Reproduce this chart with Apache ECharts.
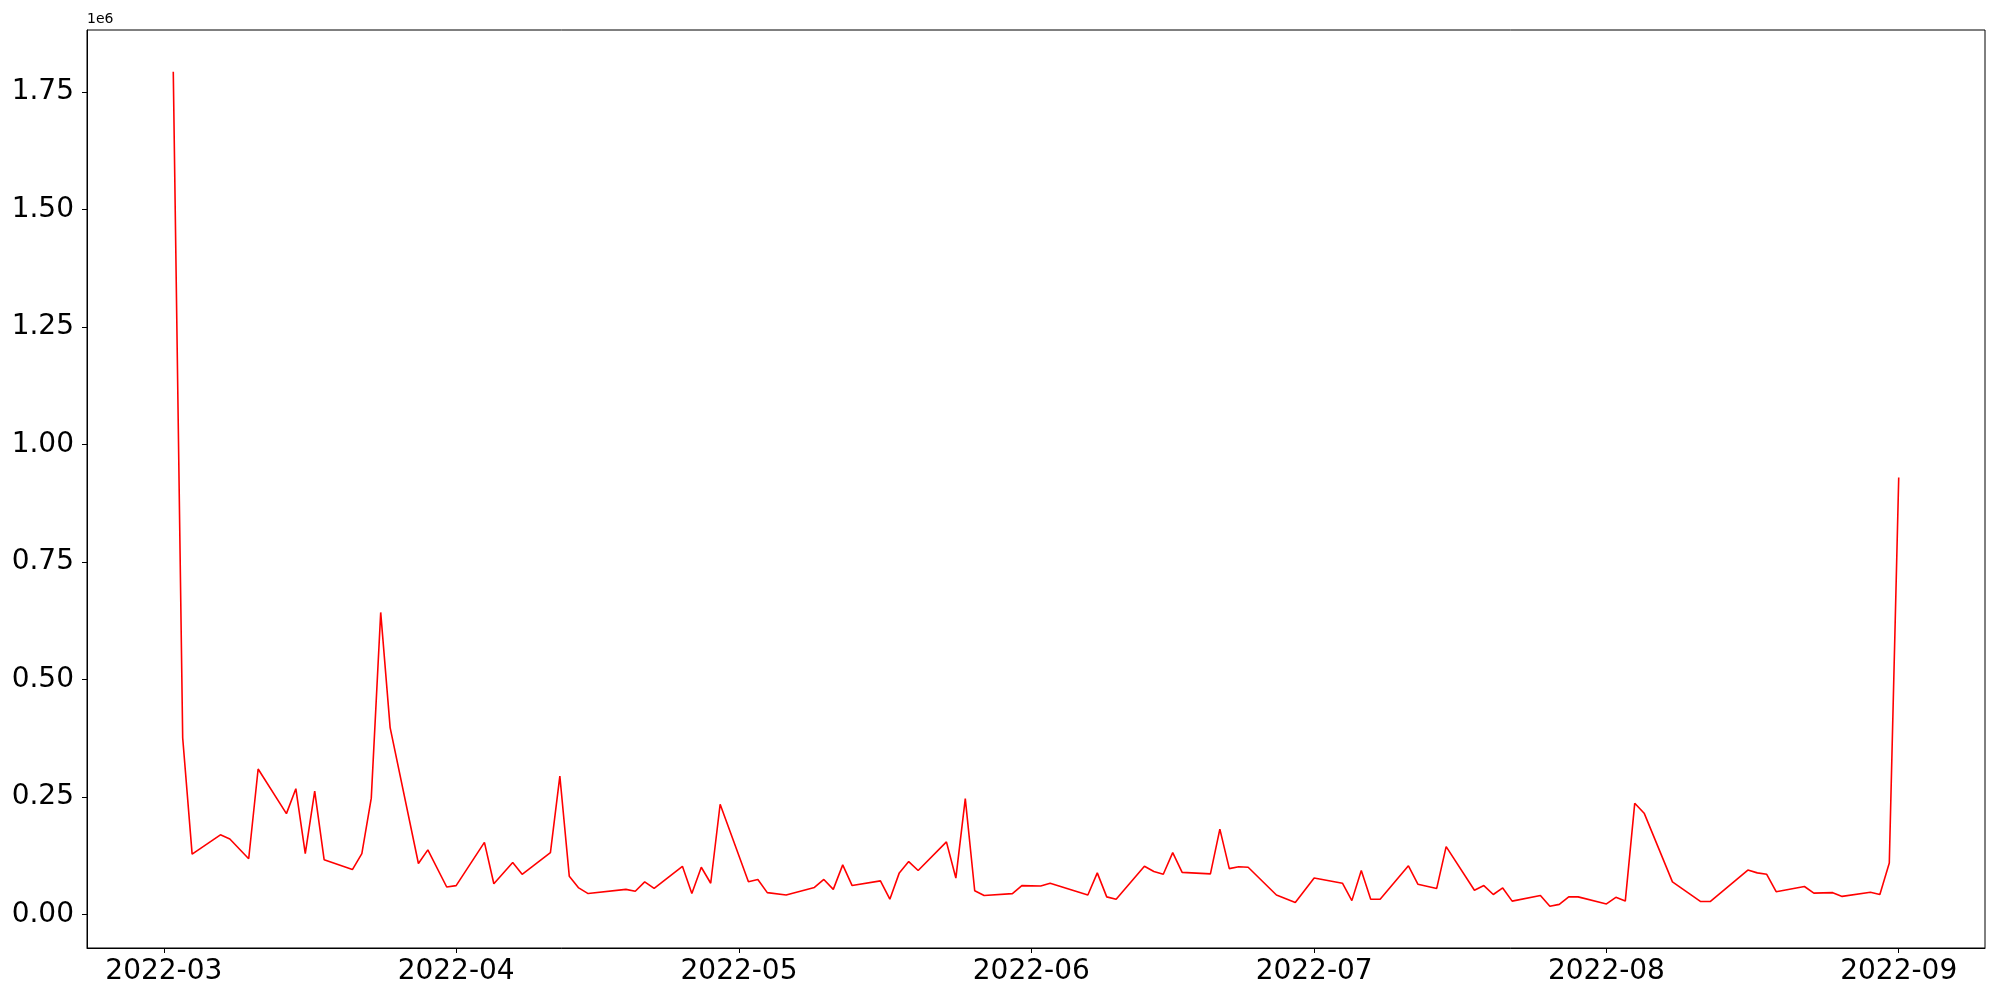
<!DOCTYPE html>
<html lang="en">
<head>
  <meta charset="UTF-8">
  <title>Daily values</title>
  <style>
    html, body { margin: 0; padding: 0; background: #fff; }
  </style>
</head>
<body>
  <div id="main" style="width: 2000px;height:1000px;"></div>

  <script src="https://cdn.jsdelivr.net/npm/echarts@6/dist/echarts.min.js"></script>
  <script>
    const dates = [
      '2022-03-02', '2022-03-03', '2022-03-04', '2022-03-07', '2022-03-08', '2022-03-10', '2022-03-11',
      '2022-03-14', '2022-03-15', '2022-03-16', '2022-03-17', '2022-03-18', '2022-03-21', '2022-03-22',
      '2022-03-23', '2022-03-24', '2022-03-25', '2022-03-28', '2022-03-29', '2022-03-31', '2022-04-01',
      '2022-04-04', '2022-04-05', '2022-04-07', '2022-04-08', '2022-04-11', '2022-04-12', '2022-04-13',
      '2022-04-14', '2022-04-15', '2022-04-19', '2022-04-20', '2022-04-21', '2022-04-22', '2022-04-25',
      '2022-04-26', '2022-04-27', '2022-04-28', '2022-04-29', '2022-05-02', '2022-05-03', '2022-05-04',
      '2022-05-06', '2022-05-09', '2022-05-10', '2022-05-11', '2022-05-12', '2022-05-13', '2022-05-16',
      '2022-05-17', '2022-05-18', '2022-05-19', '2022-05-20', '2022-05-23', '2022-05-24', '2022-05-25',
      '2022-05-26', '2022-05-27', '2022-05-30', '2022-05-31', '2022-06-02', '2022-06-03', '2022-06-07',
      '2022-06-08', '2022-06-09', '2022-06-10', '2022-06-13', '2022-06-14', '2022-06-15', '2022-06-16',
      '2022-06-17', '2022-06-20', '2022-06-21', '2022-06-22', '2022-06-23', '2022-06-24', '2022-06-27',
      '2022-06-29', '2022-07-01', '2022-07-04', '2022-07-05', '2022-07-06', '2022-07-07', '2022-07-08',
      '2022-07-11', '2022-07-12', '2022-07-14', '2022-07-15', '2022-07-18', '2022-07-19', '2022-07-20',
      '2022-07-21', '2022-07-22', '2022-07-25', '2022-07-26', '2022-07-27', '2022-07-28', '2022-07-29',
      '2022-08-01', '2022-08-02', '2022-08-03', '2022-08-04', '2022-08-05', '2022-08-08', '2022-08-11',
      '2022-08-12', '2022-08-16', '2022-08-17', '2022-08-18', '2022-08-19', '2022-08-22', '2022-08-23',
      '2022-08-25', '2022-08-26', '2022-08-29', '2022-08-30', '2022-08-31', '2022-09-01'
    ];
    const values = [
      1793000, 376000, 129000, 170000, 161000, 119000, 310000,
      215000, 268000, 130000, 263000, 117000, 96000, 130000,
      248000, 643000, 398000, 109000, 138000, 59000, 62000,
      154000, 66000, 111000, 86000, 132000, 295000, 82000,
      57000, 45000, 54000, 50000, 70000, 56000, 103000,
      45000, 101000, 67000, 235000, 70000, 75000, 47000,
      42000, 58000, 75000, 54000, 106000, 62000, 72000,
      33000, 89000, 113000, 94000, 155000, 78000, 247000,
      51000, 41000, 45000, 62000, 61000, 67000, 42000,
      89000, 38000, 33000, 103000, 92000, 86000, 132000,
      90000, 87000, 182000, 98000, 102000, 101000, 42000,
      26000, 78000, 67000, 30000, 94000, 33000, 33000,
      104000, 65000, 56000, 145000, 52000, 62000, 43000,
      57000, 29000, 41000, 18000, 22000, 38000, 38000,
      23000, 37000, 29000, 237000, 216000, 70000, 28000,
      28000, 95000, 89000, 86000, 49000, 60000, 46000,
      47000, 39000, 48000, 43000, 110000, 930000
    ];
    const monthTicks = ['2022-03-01', '2022-04-01', '2022-05-01', '2022-06-01', '2022-07-01', '2022-08-01', '2022-09-01'];
    const yTicks = [0, 250000, 500000, 750000, 1000000, 1250000, 1500000, 1750000];

    const toTime = s => {
      const p = s.split('-').map(Number);
      return +new Date(p[0], p[1] - 1, p[2]);
    };
    const fmtMonth = v => {
      const d = new Date(v);
      return d.getFullYear() + '-' + String(d.getMonth() + 1).padStart(2, '0');
    };

    // matplotlib style 5% margins on both axes
    const t0 = toTime(dates[0]);
    const t1 = toTime(dates[dates.length - 1]);
    const xPad = (t1 - t0) * 0.05;
    const vMin = Math.min(...values);
    const vMax = Math.max(...values);
    const yPad = (vMax - vMin) * 0.05;
    const xTickValues = monthTicks.map(toTime);

    const font = 'DejaVu Sans';
    const myChart = echarts.init(document.getElementById('main'));

    const options = {
      animation: false,
      backgroundColor: '#fff',
      grid: {
        left: 87,
        right: 15,
        top: 30,
        bottom: 52,
        show: true,
        borderColor: '#000',
        borderWidth: 1
      },
      graphic: [{
        type: 'text',
        left: 87,
        top: 12,
        style: {
          text: '1e6',
          font: '14px "DejaVu Sans"',
          fill: '#000'
        }
      }],
      xAxis: {
        type: 'value',
        min: t0 - xPad,
        max: t1 + xPad,
        splitLine: { show: false },
        axisLine: { onZero: false, lineStyle: { color: '#000', width: 1 } },
        axisTick: {
          length: 5,
          lineStyle: { color: '#000', width: 1 },
          customValues: xTickValues
        },
        axisLabel: {
          color: '#000',
          fontFamily: font,
          fontSize: 28,
          margin: 10,
          customValues: xTickValues,
          formatter: fmtMonth
        }
      },
      yAxis: {
        type: 'value',
        min: vMin - yPad,
        max: vMax + yPad,
        splitLine: { show: false },
        axisLine: { show: true, onZero: false, lineStyle: { color: '#000', width: 1 } },
        axisTick: {
          show: true,
          length: 5,
          lineStyle: { color: '#000', width: 1 },
          customValues: yTicks
        },
        axisLabel: {
          color: '#000',
          fontFamily: font,
          fontSize: 28,
          margin: 13,
          customValues: yTicks,
          formatter: v => (v / 1e6).toFixed(2)
        }
      },
      series: [{
        type: 'line',
        symbol: 'none',
        lineStyle: { color: '#ff0000', width: 1.6 },
        data: dates.map((d, i) => [toTime(d), values[i]])
      }]
    };

    myChart.setOption(options);
  </script>
</body>
</html>
